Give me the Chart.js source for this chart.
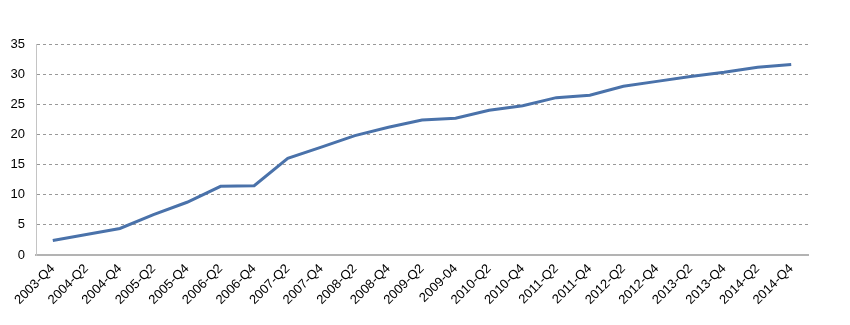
<!DOCTYPE html>
<html>
<head>
<meta charset="utf-8">
<script src="https://cdn.jsdelivr.net/npm/chart.js@4/dist/chart.umd.min.js"></script>
<style>
  html, body { margin: 0; padding: 0; background: #fff; }
  #wrap { width: 850px; height: 325px; }
</style>
</head>
<body>
<div id="wrap"><canvas id="grafico"></canvas></div>
<script>
const periodos = ['2003-Q4', '2004-Q2', '2004-Q4', '2005-Q2', '2005-Q4', '2006-Q2', '2006-Q4',
  '2007-Q2', '2007-Q4', '2008-Q2', '2008-Q4', '2009-Q2', '2009-04', '2010-Q2', '2010-Q4',
  '2011-Q2', '2011-Q4', '2012-Q2', '2012-Q4', '2013-Q2', '2013-Q4', '2014-Q2', '2014-Q4'];
const valores = [2.4, 3.4, 4.4, 6.7, 8.75, 11.4, 11.5, 16.05, 17.9, 19.8, 21.2, 22.4, 22.7,
  24.0, 24.75, 26.1, 26.5, 28.0, 28.8, 29.6, 30.3, 31.15, 31.6];
const yMax = 35;
const yPaso = 5;

Chart.defaults.font.family = 'Arial, "Liberation Sans", sans-serif';
Chart.defaults.color = '#000';

new Chart(document.getElementById('grafico'), {
  type: 'line',
  data: {
    labels: periodos,
    datasets: [{
      data: valores,
      borderColor: '#4a72aa',
      borderWidth: 3,
      pointRadius: 0,
      tension: 0,
      fill: false
    }]
  },
  options: {
    responsive: true,
    maintainAspectRatio: false,
    animation: false,
    layout: { padding: { top: 44, right: 42, left: 0, bottom: 0 } },
    plugins: { legend: { display: false }, tooltip: { enabled: false } },
    scales: {
      x: {
        offset: true,
        grid: { display: false, drawTicks: false },
        border: { display: true, color: '#b3b3b3', width: 2 },
        ticks: { minRotation: 45, maxRotation: 45, autoSkip: false, padding: 6, font: { size: 13 } },
        afterFit: s => { s.height = 70; }
      },
      y: {
        min: 0,
        max: yMax,
        grid: { color: '#999', drawTicks: false },
        border: { display: true, color: '#c4c4c4', width: 1, dash: [3, 3] },
        ticks: { stepSize: yPaso, padding: 11, font: { size: 13 } },
        afterFit: s => { s.width = 36; }
      }
    }
  }
});
</script>
</body>
</html>
